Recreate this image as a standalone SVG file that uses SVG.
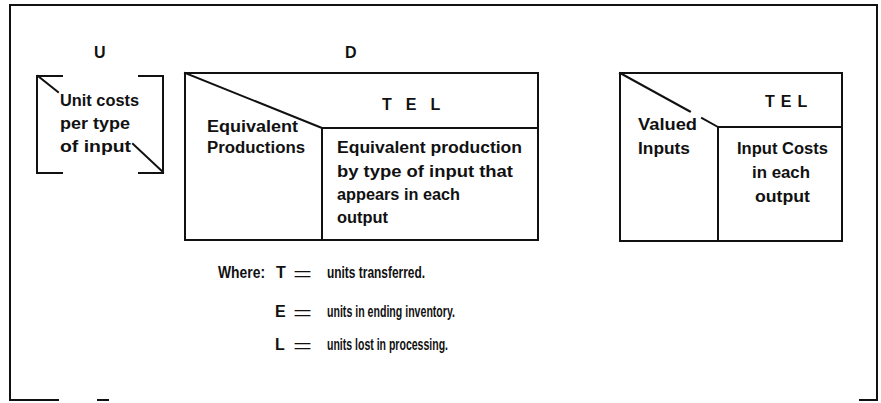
<svg xmlns="http://www.w3.org/2000/svg" width="881" height="403" viewBox="0 0 881 403">
<style>
.ln{stroke:#111;stroke-width:2;fill:none;stroke-linecap:square}
.t{font-family:"Liberation Sans",Arial,sans-serif;font-weight:bold;font-size:16px;fill:#111}
.eq{font-family:"Liberation Sans",Arial,sans-serif;font-weight:normal;font-size:18px;fill:#111}
</style>
<rect width="881" height="403" fill="#fff"/>
<g id="frame">
<path class="ln" d="M10,400 V5 H877 V400" stroke-width="1.8"/>
<path class="ln" d="M10,400 H58 M98,400 H108 M860,400 H877" stroke="#555"/>
</g>
<g id="matrix-U">
<text class="t" x="94" y="58">U</text>
<path class="ln" d="M62,76 H37 V173 H62 M139,76 H163 V173 H139"/>
<path class="ln" d="M38,76 L58,92 M133,144 L163,172"/>
<text class="t" x="60" y="106" textLength="79" lengthAdjust="spacingAndGlyphs">Unit costs</text>
<text class="t" x="60" y="129" textLength="70" lengthAdjust="spacingAndGlyphs">per type</text>
<text class="t" x="60" y="152" textLength="71" lengthAdjust="spacingAndGlyphs">of input</text>
</g>
<g id="matrix-D">
<text class="t" x="345" y="58">D</text>
<rect class="ln" x="185" y="73" width="353" height="167"/>
<path class="ln" d="M185,73 L322,128 M322,128 H538 M322,128 V240"/>
<text class="t" x="382" y="110" letter-spacing="14">TEL</text>
<text class="t" x="207" y="132" textLength="91" lengthAdjust="spacingAndGlyphs">Equivalent</text>
<text class="t" x="207" y="153" textLength="98" lengthAdjust="spacingAndGlyphs">Productions</text>
<text class="t" x="337" y="153" textLength="185" lengthAdjust="spacingAndGlyphs">Equivalent production</text>
<text class="t" x="337" y="177" textLength="176" lengthAdjust="spacingAndGlyphs">by type of input that</text>
<text class="t" x="337" y="200" textLength="123" lengthAdjust="spacingAndGlyphs">appears in each</text>
<text class="t" x="337" y="223" textLength="51" lengthAdjust="spacingAndGlyphs">output</text>
</g>
<g id="matrix-valued">
<rect class="ln" x="620" y="73" width="222" height="168"/>
<path class="ln" d="M620,73 L690,111.5 M702,118 L718,127 M718,127 H842 M718,127 V241"/>
<text class="t" x="765" y="107" letter-spacing="6">TEL</text>
<text class="t" x="638" y="130" textLength="59" lengthAdjust="spacingAndGlyphs">Valued</text>
<text class="t" x="638" y="154" textLength="52" lengthAdjust="spacingAndGlyphs">Inputs</text>
<text class="t" x="737" y="154" textLength="91" lengthAdjust="spacingAndGlyphs">Input Costs</text>
<text class="t" x="752" y="178" textLength="58" lengthAdjust="spacingAndGlyphs">in each</text>
<text class="t" x="755" y="202" textLength="55" lengthAdjust="spacingAndGlyphs">output</text>
</g>
<g id="legend">
<text class="t" x="218" y="278" textLength="47" lengthAdjust="spacingAndGlyphs">Where:</text>
<text class="t" x="276" y="278">T</text>
<text class="eq" x="293" y="280" textLength="19" lengthAdjust="spacingAndGlyphs">=</text>
<text class="t" x="327" y="278" textLength="98" lengthAdjust="spacingAndGlyphs">units transferred.</text>
<text class="t" x="275" y="317">E</text>
<text class="eq" x="293" y="319" textLength="19" lengthAdjust="spacingAndGlyphs">=</text>
<text class="t" x="327" y="317" textLength="128" lengthAdjust="spacingAndGlyphs">units in ending inventory.</text>
<text class="t" x="275" y="350">L</text>
<text class="eq" x="293" y="352" textLength="19" lengthAdjust="spacingAndGlyphs">=</text>
<text class="t" x="327" y="350" textLength="121" lengthAdjust="spacingAndGlyphs">units lost in processing.</text>
</g>
</svg>
